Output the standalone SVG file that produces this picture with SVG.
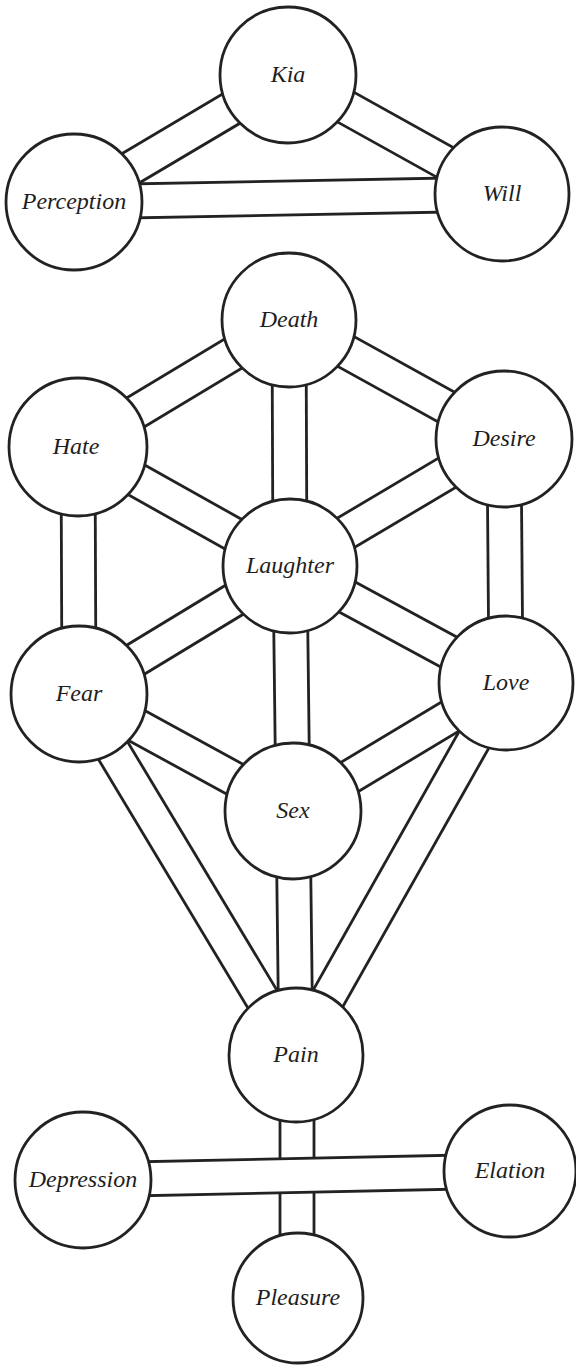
<svg xmlns="http://www.w3.org/2000/svg" width="576" height="1365" viewBox="0 0 576 1365">
<style>
.bg{fill:#fff}
.c{fill:#fff;stroke:#222;stroke-width:2.8}
.l line{stroke:#222;stroke-width:2.8;stroke-linecap:butt}
text{font-family:"Liberation Serif","Times New Roman",serif;font-style:italic;font-size:24px;fill:#1e1e1e;text-anchor:middle}
</style>
<rect class="bg" x="0" y="0" width="576" height="1365"/>
<g id="connectors" class="l">
<!-- Kia-Perception -->
<g transform="translate(288,75) rotate(149.32)"><line x1="0" y1="-17" x2="248.8" y2="-17"/><line x1="0" y1="17" x2="248.8" y2="17"/></g>
<!-- Kia-Will -->
<g transform="translate(288,75) rotate(29.08)"><line x1="0" y1="-17" x2="244.9" y2="-17"/><line x1="0" y1="17" x2="244.9" y2="17"/></g>
<!-- Perception-Will -->
<g transform="translate(74,202) rotate(-1.07)"><line x1="0" y1="-17" x2="428.1" y2="-17"/><line x1="0" y1="17" x2="428.1" y2="17"/></g>
<!-- Death-Hate -->
<g transform="translate(289,320) rotate(148.96)"><line x1="0" y1="-17" x2="246.3" y2="-17"/><line x1="0" y1="17" x2="246.3" y2="17"/></g>
<!-- Death-Desire -->
<g transform="translate(289,320) rotate(28.96)"><line x1="0" y1="-17" x2="245.7" y2="-17"/><line x1="0" y1="17" x2="245.7" y2="17"/></g>
<!-- Death-Laughter -->
<g transform="translate(289,320) rotate(89.77)"><line x1="0" y1="-17" x2="246" y2="-17"/><line x1="0" y1="17" x2="246" y2="17"/></g>
<!-- Hate-Laughter -->
<g transform="translate(78,447) rotate(29.31)"><line x1="0" y1="-17" x2="243.1" y2="-17"/><line x1="0" y1="17" x2="243.1" y2="17"/></g>
<!-- Desire-Laughter -->
<g transform="translate(504,439) rotate(149.32)"><line x1="0" y1="-17" x2="248.8" y2="-17"/><line x1="0" y1="17" x2="248.8" y2="17"/></g>
<!-- Hate-Fear -->
<g transform="translate(78,447) rotate(89.77)"><line x1="0" y1="-17" x2="247" y2="-17"/><line x1="0" y1="17" x2="247" y2="17"/></g>
<!-- Desire-Love -->
<g transform="translate(504,439) rotate(89.53)"><line x1="0" y1="-17" x2="244" y2="-17"/><line x1="0" y1="17" x2="244" y2="17"/></g>
<!-- Laughter-Fear -->
<g transform="translate(290,566) rotate(148.76)"><line x1="0" y1="-17" x2="246.8" y2="-17"/><line x1="0" y1="17" x2="246.8" y2="17"/></g>
<!-- Laughter-Love -->
<g transform="translate(290,566) rotate(28.44)"><line x1="0" y1="-17" x2="245.7" y2="-17"/><line x1="0" y1="17" x2="245.7" y2="17"/></g>
<!-- Laughter-Sex -->
<g transform="translate(290,566) rotate(89.3)"><line x1="0" y1="-17" x2="245" y2="-17"/><line x1="0" y1="17" x2="245" y2="17"/></g>
<!-- Fear-Sex -->
<g transform="translate(79,694) rotate(28.66)"><line x1="0" y1="-17" x2="243.9" y2="-17"/><line x1="0" y1="17" x2="243.9" y2="17"/></g>
<!-- Love-Sex -->
<g transform="translate(506,683) rotate(149)"><line x1="0" y1="-17" x2="248.5" y2="-17"/><line x1="0" y1="17" x2="248.5" y2="17"/></g>
<!-- Fear-Pain -->
<g transform="translate(79,694) rotate(58.99)"><line x1="0" y1="-17" x2="421.2" y2="-17"/><line x1="0" y1="17" x2="421.2" y2="17"/></g>
<!-- Love-Pain -->
<g transform="translate(506,683) rotate(119.44)"><line x1="0" y1="-17" x2="427.2" y2="-17"/><line x1="0" y1="17" x2="427.2" y2="17"/></g>
<!-- Sex-Pain -->
<g transform="translate(293,811) rotate(89.3)"><line x1="0" y1="-17" x2="244" y2="-17"/><line x1="0" y1="17" x2="244" y2="17"/></g>
<!-- Depression-Elation -->
<g transform="translate(83,1180) rotate(-1.21)"><line x1="0" y1="-17" x2="427.1" y2="-17"/><line x1="0" y1="17" x2="427.1" y2="17"/></g>
<!-- Pain-Pleasure (interrupted by the Depression-Elation band) -->
<line x1="280" y1="1055" x2="280" y2="1158.9"/>
<line x1="314" y1="1055" x2="314" y2="1158.2"/>
<line x1="280" y1="1192.9" x2="280" y2="1298"/>
<line x1="314" y1="1192.2" x2="314" y2="1298"/>
</g>
<g id="kia"><circle class="c" cx="288" cy="75" r="68"/><text x="288" y="82">Kia</text></g>
<g id="perception"><circle class="c" cx="74" cy="202" r="68"/><text x="74" y="209">Perception</text></g>
<g id="will"><circle class="c" cx="502" cy="194" r="67"/><text x="502" y="201">Will</text></g>
<g id="death"><circle class="c" cx="289" cy="320" r="67"/><text x="289" y="327">Death</text></g>
<g id="hate"><circle class="c" cx="78" cy="447" r="69"/><text x="76" y="454">Hate</text></g>
<g id="desire"><circle class="c" cx="504" cy="439" r="68"/><text x="504" y="446">Desire</text></g>
<g id="laughter"><circle class="c" cx="290" cy="566" r="67"/><text x="290" y="573">Laughter</text></g>
<g id="fear"><circle class="c" cx="79" cy="694" r="68"/><text x="79" y="701">Fear</text></g>
<g id="love"><circle class="c" cx="506" cy="683" r="67"/><text x="506" y="690">Love</text></g>
<g id="sex"><circle class="c" cx="293" cy="811" r="68"/><text x="293" y="818">Sex</text></g>
<g id="pain"><circle class="c" cx="296" cy="1055" r="67"/><text x="296" y="1062">Pain</text></g>
<g id="depression"><circle class="c" cx="83" cy="1180" r="68"/><text x="83" y="1187">Depression</text></g>
<g id="elation"><circle class="c" cx="510" cy="1171" r="66"/><text x="510" y="1178">Elation</text></g>
<g id="pleasure"><circle class="c" cx="298" cy="1298" r="65"/><text x="298" y="1305">Pleasure</text></g>
</svg>
